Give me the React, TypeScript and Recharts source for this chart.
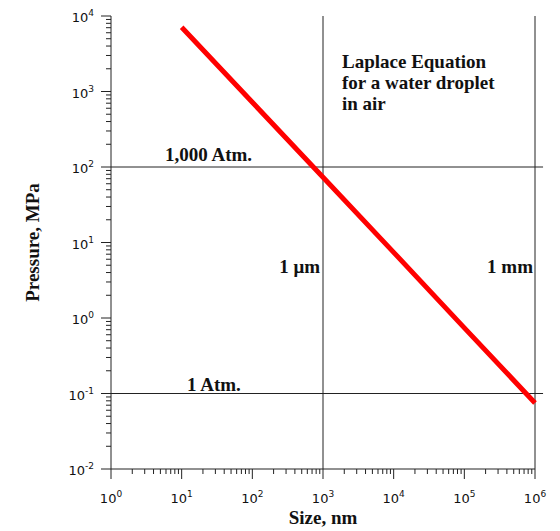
import { LineChart, Line, XAxis, YAxis, ReferenceLine } from "recharts";

// droplet size (nm) vs Laplace pressure (MPa)
const sizes = [10, 100, 1000, 10000, 100000, 1000000];
const pressures = [7100, 720, 73, 7.4, 0.74, 0.075];

const xDecades = [1, 10, 100, 1000, 10000, 100000, 1000000];
const xExponents = ["0", "1", "2", "3", "4", "5", "6"];
const yDecades = [0.01, 0.1, 1, 10, 100, 1000, 10000];
const yExponents = ["-2", "-1", "0", "1", "2", "3", "4"];
const minorSteps = [2, 3, 4, 5, 6, 7, 8, 9];

const withMinors = (decades: number[]) =>
  decades.flatMap((d, i) => (i < decades.length - 1 ? [d, ...minorSteps.map((m) => d * m)] : [d]));

const xTicks = withMinors(xDecades);
const yTicks = withMinors(yDecades);

const data = sizes.map((size, i) => ({ size, pressure: pressures[i] }));

const AXIS = "#222";
const SANS = "'DejaVu Sans', 'Liberation Sans', Arial, sans-serif";
const SERIF = "'Liberation Serif', 'Times New Roman', Times, serif";

const XTick = ({ x, y, payload }: any) => {
  const i = xDecades.indexOf(payload.value);
  const major = i >= 0;
  return (
    <g>
      <line x1={x} x2={x} y1={y} y2={y + (major ? 10 : 5)} stroke={AXIS} />
      {major && (
        <text x={x} y={y + 34} textAnchor="middle" fontFamily={SANS} fontSize={13} fill="#111">
          10<tspan dy={-6} fontSize={9}>{xExponents[i]}</tspan>
        </text>
      )}
    </g>
  );
};

const YTick = ({ x, y, payload }: any) => {
  const i = yDecades.indexOf(payload.value);
  const major = i >= 0;
  return (
    <g>
      <line x1={x - (major ? 10 : 5)} x2={x} y1={y} y2={y} stroke={AXIS} />
      {major && (
        <text x={x - 17} y={y + 6} textAnchor="end" fontFamily={SANS} fontSize={13} fill="#111">
          10<tspan dy={-6} fontSize={9}>{yExponents[i]}</tspan>
        </text>
      )}
    </g>
  );
};

const boldText = { fontFamily: SERIF, fontSize: 19, fontWeight: 700, fill: "#111" };

const App = () => {
  return (
    <div style={{ position: "absolute", left: 0, top: 0, background: "#fff" }}>
      <LineChart width={560} height={531} data={data} margin={{ top: 16, right: 25, bottom: 22, left: 41 }}>
        <XAxis
          dataKey="size"
          type="number"
          scale="log"
          domain={[1, 1000000]}
          ticks={xTicks}
          interval={0}
          tick={XTick}
          tickLine={false}
          tickSize={0}
          tickMargin={0}
          height={40}
          axisLine={{ stroke: AXIS }}
          label={{
            content: ({ viewBox }: any) => (
              <text x={viewBox.x + viewBox.width / 2} y={viewBox.y + 55} textAnchor="middle" {...boldText}>
                Size, nm
              </text>
            ),
          }}
        />
        <YAxis
          type="number"
          scale="log"
          domain={[0.01, 10000]}
          ticks={yTicks}
          interval={0}
          tick={YTick}
          tickLine={false}
          tickSize={0}
          tickMargin={0}
          width={70}
          axisLine={{ stroke: AXIS }}
          label={{
            content: ({ viewBox }: any) => {
              const cx = viewBox.x - 2;
              const cy = viewBox.y + viewBox.height / 2;
              return (
                <text x={cx} y={cy} textAnchor="middle" transform={`rotate(-90 ${cx} ${cy})`} {...boldText}>
                  Pressure, MPa
                </text>
              );
            },
          }}
        />
        <ReferenceLine
          segment={[{ x: 1, y: 100 }, { x: 1300000, y: 100 }]}
          ifOverflow="visible"
          stroke={AXIS}
          label={{
            content: ({ viewBox }: any) => (
              <text x={viewBox.x + 54} y={viewBox.y - 6} {...boldText}>1,000 Atm.</text>
            ),
          }}
        />
        <ReferenceLine
          segment={[{ x: 1, y: 0.1 }, { x: 1300000, y: 0.1 }]}
          ifOverflow="visible"
          stroke={AXIS}
          label={{
            content: ({ viewBox }: any) => (
              <text x={viewBox.x + 76} y={viewBox.y - 3} {...boldText}>1 Atm.</text>
            ),
          }}
        />
        <ReferenceLine
          x={1000}
          stroke={AXIS}
          label={{
            content: ({ viewBox }: any) => (
              <g>
                <text x={viewBox.x + 19} y={viewBox.y + 52} {...boldText}>Laplace Equation</text>
                <text x={viewBox.x + 19} y={viewBox.y + 73} {...boldText}>for a water droplet</text>
                <text x={viewBox.x + 19} y={viewBox.y + 94} {...boldText}>in air</text>
                <text x={viewBox.x - 3} y={viewBox.y + 257} textAnchor="end" {...boldText}>1 μm</text>
              </g>
            ),
          }}
        />
        <ReferenceLine
          x={1000000}
          stroke={AXIS}
          label={{
            content: ({ viewBox }: any) => (
              <text x={viewBox.x - 2} y={viewBox.y + 257} textAnchor="end" {...boldText}>1 mm</text>
            ),
          }}
        />
        <Line
          type="linear"
          dataKey="pressure"
          stroke="#ff0000"
          strokeWidth={5}
          dot={false}
          isAnimationActive={false}
        />
      </LineChart>
    </div>
  );
};

export default App;
